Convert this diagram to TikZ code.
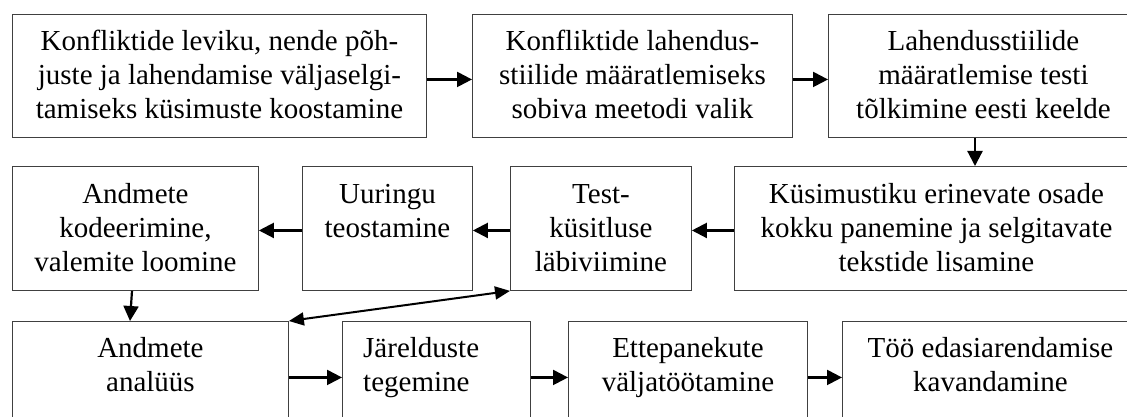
\documentclass[tikz,border=0pt]{standalone}
\usepackage{fontspec}
\setmainfont{Liberation Serif}
\usetikzlibrary{arrows.meta,calc}
\newcommand\firstln{\rule{0pt}{22pt}}
\tikzset{
  box/.style={draw=black!75, line width=0.9pt, rectangle, inner sep=0pt, anchor=north west},
  txt/.style={inner sep=0pt, align=center, anchor=north, font=\fontsize{29}{34}\selectfont},
  arr/.style={line width=2.2pt, -{Triangle[length=15pt,width=15pt]}},
  darr/.style={line width=2pt, {Triangle[length=15pt,width=13pt]}-{Triangle[length=15pt,width=13pt]}}
}
\begin{document}
\begin{tikzpicture}[x=1pt,y=-1pt]
\useasboundingbox (0,0) rectangle (1127,417);
\fill[white] (0,0) rectangle (1127,417);
\clip (0,0) rectangle (1127,417);
% row 1
\node[box, minimum width=414pt, minimum height=123pt] (b1) at (12,14) {};
\node[box, minimum width=320pt, minimum height=123pt] (b2) at (472,14) {};
\node[box, minimum width=310pt, minimum height=123pt] (b3) at (828,14) {};
% row 2
\node[box, minimum width=246pt, minimum height=124pt] (c1) at (12,166) {};
\node[box, minimum width=170pt, minimum height=124pt] (c2) at (302,166) {};
\node[box, minimum width=181pt, minimum height=124pt] (c3) at (510,166) {};
\node[box, minimum width=404pt, minimum height=124pt] (c4) at (734,166) {};
% row 3
\node[box, minimum width=276pt, minimum height=112pt] (d1) at (12,321) {};
\node[box, minimum width=188pt, minimum height=112pt] (d2) at (342,321) {};
\node[box, minimum width=239pt, minimum height=112pt] (d3) at (568,321) {};
\node[box, minimum width=296pt, minimum height=112pt] (d4) at (842,321) {};
% texts
\node[txt] (tb1) at ($(b1.north)+(0,14)$) {\firstln Konfliktide leviku, nende põh-\\juste ja lahendamise väljaselgi-\\tamiseks küsimuste koostamine};
\node[txt] (tb2) at ($(b2.north)+(0,14)$) {\firstln Konfliktide lahendus-\\stiilide määratlemiseks\\sobiva meetodi valik};
\node[txt] (tb3) at ($(b3.north)+(0,14)$) {\firstln Lahendusstiilide\\määratlemise testi\\tõlkimine eesti keelde};
\node[txt] (tc1) at ($(c1.north)+(0,15)$) {\firstln Andmete\\kodeerimine,\\valemite loomine};
\node[txt] (tc2) at ($(c2.north)+(0,15)$) {\firstln Uuringu\\teostamine};
\node[txt] (tc3) at ($(c3.north)+(0,15)$) {\firstln Test-\\küsitluse\\läbiviimine};
\node[txt] (tc4) at ($(c4.north)+(0,15)$) {\firstln Küsimustiku erinevate osade\\kokku panemine ja selgitavate\\tekstide lisamine};
\node[txt] (td1) at ($(d1.north)+(0,14)$) {\firstln Andmete\\analüüs};
\node[txt, anchor=north west, align=left] (td2) at ($(d2.north west)+(21,14)$) {\firstln Järelduste\\tegemine};
\node[txt] (td3) at ($(d3.north)+(0,14)$) {\firstln Ettepanekute\\väljatöötamine};
\node[txt] (td4) at ($(d4.north)+(0,14)$) {\firstln Töö edasiarendamise\\kavandamine};
% connectors
\draw[arr] ([yshift=-3.5pt]b1.east) -- ([yshift=-3.5pt]b2.west);
\draw[arr] ([yshift=-3.5pt]b2.east) -- ([yshift=-3.5pt]b3.west);
\coordinate (xdown) at (975,0);
\draw[arr] (b3.south -| xdown) -- (c4.north -| xdown);
\draw[arr] ([yshift=-2pt]c4.west) -- ([yshift=-2pt]c3.east);
\draw[arr] ([yshift=-2pt]c3.west) -- ([yshift=-2pt]c2.east);
\draw[arr] ([yshift=-2pt]c2.west) -- ([yshift=-2pt]c1.east);
\draw[arr] ($(c1.south west)+(120,0)$) -- ($(d1.north west)+(118,0)$);
\draw[darr] (c3.south west) -- (d1.north east);
\draw[arr] (d1.east) -- (d2.west);
\draw[arr] (d2.east) -- (d3.west);
\draw[arr] (d3.east) -- (d4.west);
\end{tikzpicture}
\end{document}
